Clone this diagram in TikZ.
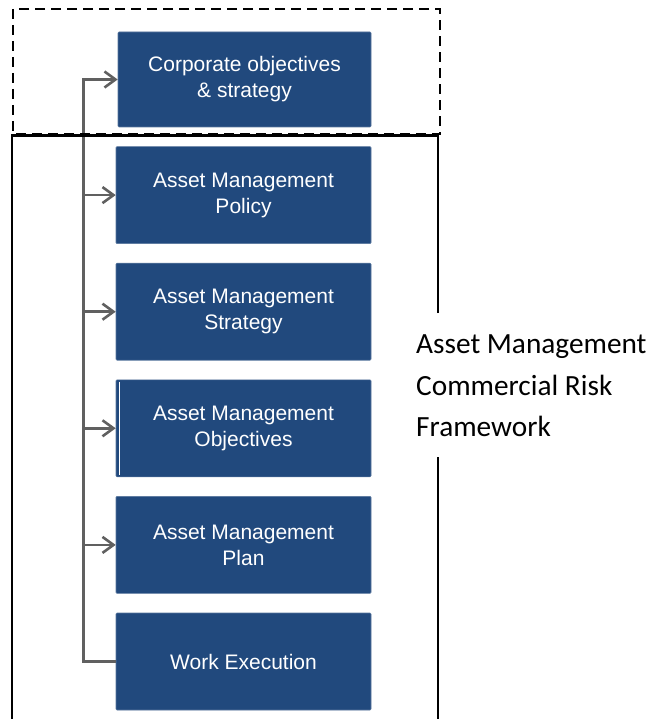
\documentclass[tikz,border=0pt]{standalone}
\usepackage{fontspec}
\setmainfont{Liberation Sans}
\newfontfamily\calibrifont{Carlito}
\usetikzlibrary{positioning}
\usetikzlibrary{calc,arrows.meta}
\definecolor{amblue}{RGB}{33,73,125}
\definecolor{amgray}{RGB}{96,96,96}

\begin{document}
\begin{tikzpicture}[x=1pt,y=-1pt,
	blk/.style={rectangle,fill=amblue,draw=amblue!75!white,line width=0.6pt,rounded corners=1pt,minimum width=255pt,minimum height=97pt,inner sep=0pt,text=white,align=center,font=\fontsize{21}{26}\selectfont},
	link/.style={draw=amgray,line width=2.8pt},
	linkarrow/.style={link,-{Straight Barb[length=11pt,width=16pt,line width=2.6pt]}}]
		\useasboundingbox (0,0) rectangle (653,719);
		% blocks of the framework
		\node[blk,minimum width=253pt,minimum height=95pt] (A) at (244.5,79.5) {Corporate objectives\\ \& strategy};
		\node[blk,below=19pt of A,xshift=-1pt] (B) {Asset Management\\ Policy};
		\node[blk,below=19pt of B] (C) {Asset Management\\ Strategy};
		\node[blk,below=19pt of C] (D) {Asset Management\\ Objectives};
		\node[blk,below=19pt of D] (E) {Asset Management\\ Plan};
		\node[blk,below=19pt of E] (F) {Work Execution};
		\draw[white,line width=1.2pt] ($(D.north west)+(4,2)$) -- ($(D.south west)+(4,-2)$);
		
		% feedback spine
		\coordinate (S) at ($(F.west)+(-32,0)$);
		\draw[linkarrow] (F.west) -- (S) |- (A.west);
		\foreach \n in {B,C,D,E}
			\draw[linkarrow] (\n.west -| S) -- (\n.west);
		
		% frames
		\draw[black,line width=2.6pt,dash pattern=on 10pt off 6pt] (13,9) rectangle (440,134);
		\coordinate (P) at (438,135.5);
		\coordinate (Q) at (12,135.5);
		\draw[black,line width=2.8pt] (438,313) -- (P) -- (Q) -- (12,722);
		\draw[black,line width=2.8pt] (438,457) -- (438,722);
		\node[anchor=west,align=left,inner sep=0pt,font=\calibrifont\fontsize{29.3}{41.5}\selectfont] (R) at (416,386) {Asset Management\\ Commercial Risk\\ Framework};
	\end{tikzpicture}
\end{document}
